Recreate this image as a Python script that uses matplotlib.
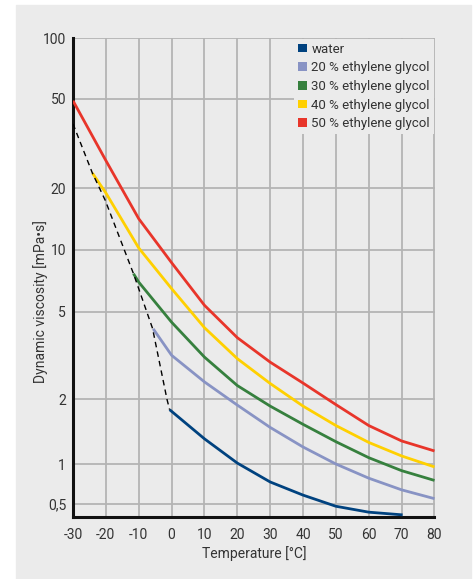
import matplotlib
matplotlib.use('Agg')
import matplotlib.pyplot as plt
from matplotlib.patches import Patch, Rectangle
import numpy as np

plt.rcParams['font.family'] = ['Roboto', 'DejaVu Sans']

# curves (temperature in °C, viscosity in mPa·s)
t_water = [-0.6, 10, 20, 30, 40, 50, 60, 70.3]
v_water = [1.79, 1.31, 1.01, 0.73, 0.58, 0.477, 0.43, 0.41]

t_eg20 = [-5.6, 0, 10, 20, 30, 40, 50, 60, 70, 80]
v_eg20 = [4.18, 3.17, 2.40, 1.88, 1.48, 1.20, 1.0, 0.78, 0.636, 0.545]

t_eg30 = [-11.6, -10, 0, 10, 20, 30, 40, 50, 60, 70, 80]
v_eg30 = [7.65, 6.96, 4.48, 3.11, 2.31, 1.86, 1.53, 1.27, 1.07, 0.89, 0.75]

t_eg40 = [-24.1, -20, -10, 0, 10, 20, 30, 40, 50, 60, 70, 80]
v_eg40 = [23.4, 19.0, 10.2, 6.47, 4.23, 3.06, 2.36, 1.86, 1.51, 1.26, 1.09, 0.95]

t_eg50 = [-30, -20, -10, 0, 10, 20, 30, 40, 50, 60, 70, 80]
v_eg50 = [49, 26.6, 14.2, 8.65, 5.37, 3.81, 2.95, 2.37, 1.89, 1.51, 1.28, 1.15]

# freezing limit (dashed)
t_freeze = [-30, -24.1, -20.2, -11.6, -5.8, -1.4, -0.6]
v_freeze = [38.7, 23.4, 17.5, 7.65, 4.2, 2.0, 1.79]

labels = ['water', '20 % ethylene glycol', '30 % ethylene glycol',
          '40 % ethylene glycol', '50 % ethylene glycol']
colors = ['#00427f', '#8893c4', '#36803e', '#ffd000', '#e8352a']

x_ticks = list(range(-30, 81, 10))
y_ticks = [0.5, 1, 2, 5, 10, 20, 50, 100]
y_ticklabels = ['0,5', '1', '2', '5', '10', '20', '50', '100']

# the original axis is log-like but squeezed below 1
knot_vals = np.log10([0.1, 0.5, 1, 2, 5, 10, 20, 50, 100, 1000])
knot_pos = [-78.2, 13.4, 53, 117.7, 205.4, 267.4, 328.7, 418.4, 479.2, 689.2]


def forward(v):
    v = np.clip(np.asarray(v, dtype=float), 1e-3, None)
    return np.interp(np.log10(v), knot_vals, knot_pos)


def inverse(p):
    return 10 ** np.interp(p, knot_pos, knot_vals)


bg = '#ebebeb'
txt_color = '#333333'
fig = plt.figure(figsize=(4.76, 5.79), dpi=100)
fig.patches.append(Rectangle((16 / 476, 0), 455 / 476, 574 / 579,
                             transform=fig.transFigure, color=bg, zorder=-10))
ax = fig.add_axes([73 / 476, 62 / 579, 361.5 / 476, 479 / 579])
ax.set_facecolor(bg)
ax.set_yscale('function', functions=(forward, inverse))

series = [(t_water, v_water), (t_eg20, v_eg20), (t_eg30, v_eg30),
          (t_eg40, v_eg40), (t_eg50, v_eg50)]
for (t, v), c in zip(series, colors):
    ax.plot(t, v, color=c, lw=2.0, solid_capstyle='butt',
            solid_joinstyle='round', zorder=3)

ax.plot(t_freeze, v_freeze, color='black', lw=1.0, ls=(0, (4, 3)), zorder=4)

ax.set_xlim(-30, 80)
ax.set_ylim(0.395, 100)
ax.set_xticks(x_ticks)
ax.set_xticklabels([str(x) for x in x_ticks])
ax.set_yticks(y_ticks)
ax.set_yticklabels(y_ticklabels)
ax.minorticks_off()
ax.tick_params(length=0, labelsize=10, colors=txt_color)
ax.tick_params(axis='x', pad=8)
ax.tick_params(axis='y', pad=5)

ax.grid(True, color='#b4b4b4', lw=1.3, zorder=1)
ax.set_axisbelow(True)
for s in ['top', 'right']:
    ax.spines[s].set_visible(False)
for s in ['left', 'bottom']:
    ax.spines[s].set_color('#111111')
    ax.spines[s].set_linewidth(2.2)

ax.set_xlabel('Temperature [°C]', fontsize=10, color=txt_color, labelpad=3)
ax.set_ylabel('Dynamic viscosity [mPa•s]', fontsize=10, color=txt_color)
ax.yaxis.set_label_coords(-0.07, 0.45)

handles = [Patch(facecolor=c, edgecolor='none') for c in colors]
leg = ax.legend(handles, labels, loc='upper right', bbox_to_anchor=(1.0, 1.0),
                fontsize=9.5, frameon=True, facecolor=bg, edgecolor='none',
                framealpha=1, fancybox=False, handlelength=0.65, handleheight=0.65,
                handletextpad=0.35, labelspacing=0.43, borderaxespad=0.05,
                borderpad=0.3)
for txt in leg.get_texts():
    txt.set_color(txt_color)

fig.savefig('out.png', dpi=100, facecolor='white')
